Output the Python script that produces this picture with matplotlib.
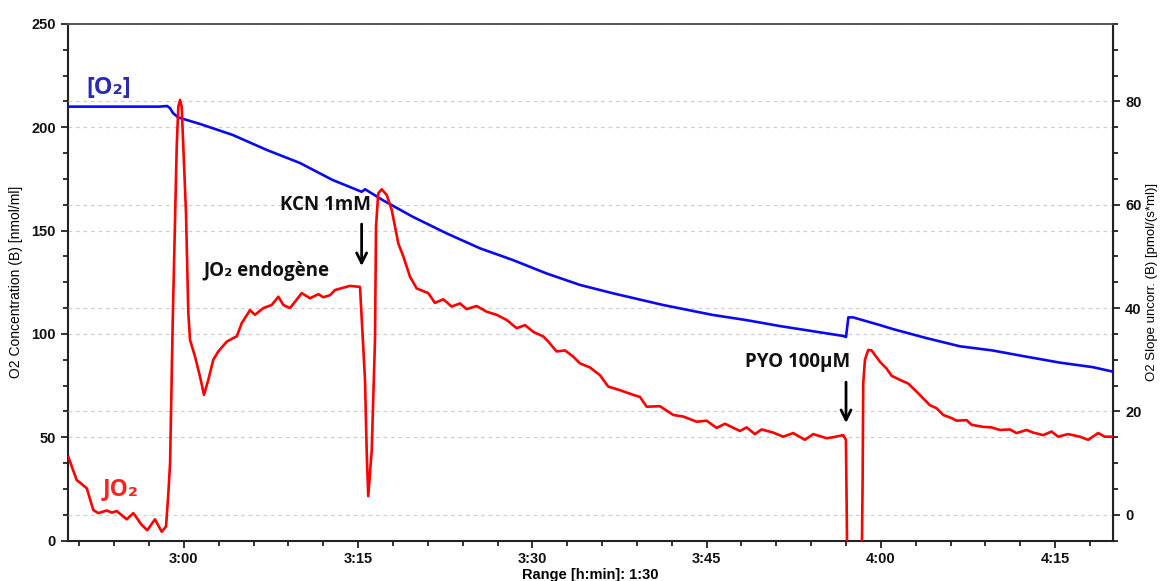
import matplotlib.pyplot as plt
from matplotlib.ticker import MultipleLocator, FuncFormatter

plt.rcParams['font.family'] = ['Liberation Sans', 'DejaVu Sans']

# time in minutes (3:00 = 180)
o2_time = [170.0, 177.9, 178.55, 178.8, 179.06, 179.5, 181.4, 184.2, 187.15, 190.0,
           192.8, 195.3, 195.6, 197.1, 199.7, 202.6, 205.5, 208.3, 211.2, 214.1,
           216.9, 221.25, 225.5, 228.4, 231.3, 236.76, 237.0, 237.2, 237.6, 239.9,
           241.0, 243.9, 246.8, 249.6, 252.5, 255.4, 258.25, 260.0]
o2_conc = [210.0, 210.0, 210.3, 209.3, 206.9, 204.8, 201.6, 196.3, 189.0, 182.7,
           174.5, 168.8, 170.0, 164.8, 156.7, 148.7, 141.4, 135.8, 129.3, 123.7,
           119.7, 114.0, 109.2, 106.7, 103.8, 99.0, 98.5, 108.0, 108.0, 104.3,
           102.4, 98.0, 94.0, 92.0, 89.0, 86.1, 83.9, 81.7]

jo2_time = [170.05, 170.77, 171.06, 171.64, 172.2, 172.63, 173.36, 173.79, 174.22, 175.08,
            175.65, 176.37, 176.85, 177.51, 178.09, 178.46, 178.66, 178.81, 179.04, 179.38,
            179.52, 179.67, 179.81, 179.95, 180.18, 180.38, 180.53, 180.96, 181.39, 181.73,
            182.1, 182.53, 182.96, 183.69, 184.25, 184.55, 184.98, 185.69, 186.12, 186.84,
            187.56, 188.13, 188.56, 189.13, 189.56, 190.14, 190.86, 191.57, 192.0, 192.58,
            193.01, 194.3, 195.16, 195.31, 195.59, 195.74, 195.87, 196.17, 196.45, 196.54,
            196.73, 197.03, 197.46, 197.89, 198.46, 198.89, 199.46, 200.04, 201.04, 201.61,
            202.33, 203.05, 203.77, 204.34, 205.2, 206.06, 206.92, 207.79, 208.65, 209.36,
            210.08, 210.94, 211.37, 212.09, 212.81, 213.52, 214.09, 214.96, 215.82, 216.53,
            217.54, 218.68, 219.26, 219.84, 220.98, 222.13, 222.99, 224.14, 225.0, 225.86,
            226.58, 227.87, 228.44, 229.16, 229.73, 230.73, 231.59, 232.45, 233.46, 234.18,
            235.33, 235.9, 236.76, 236.99, 237.05, 237.15, 237.7, 238.3, 238.43, 238.48,
            238.63, 238.91, 239.2, 239.92, 240.49, 240.92, 241.64, 242.35, 243.08, 244.22,
            244.8, 245.37, 246.09, 246.52, 247.38, 247.81, 248.81, 249.53, 250.25, 251.11,
            251.68, 252.54, 253.11, 253.97, 254.7, 255.26, 256.12, 257.13, 257.85, 258.71,
            259.28, 260.0]
jo2_slope = [11.2, 6.7, 6.2, 5.1, 0.9, 0.3, 0.8, 0.4, 0.7, -0.9,
             0.3, -2.0, -3.0, -0.9, -3.3, -2.3, 4.1, 10.0, 37.7, 71.2,
             79.0, 80.3, 79.0, 71.2, 58.4, 39.0, 33.8, 30.6, 26.7, 23.2,
             26.1, 30.0, 31.6, 33.5, 34.2, 34.5, 37.1, 39.6, 38.7, 40.0,
             40.6, 42.2, 40.6, 40.0, 41.2, 42.9, 41.9, 42.7, 42.1, 42.5,
             43.5, 44.3, 44.1, 37.7, 26.1, 11.9, 3.6, 12.5, 33.8, 55.8,
             62.2, 63.0, 61.9, 59.0, 52.5, 50.0, 46.1, 43.8, 42.9, 41.0,
             41.7, 40.3, 40.9, 39.8, 40.4, 39.3, 38.7, 37.7, 36.1, 36.7,
             35.4, 34.5, 33.5, 31.6, 31.8, 30.6, 29.3, 28.5, 27.0, 24.8,
             24.1, 23.2, 22.8, 20.9, 21.0, 19.3, 19.0, 18.0, 18.2, 16.8,
             17.6, 16.2, 16.9, 15.6, 16.5, 15.9, 15.1, 15.8, 14.5, 15.6,
             14.8, 15.0, 15.4, 14.5, 2.8, -20.0, -30.0, -20.0, 6.7, 25.4,
             30.0, 31.9, 31.8, 29.6, 28.3, 26.9, 26.1, 25.4, 23.8, 21.2,
             20.6, 19.3, 18.7, 18.2, 18.3, 17.4, 17.0, 16.9, 16.4, 16.5,
             15.8, 16.4, 15.9, 15.4, 16.1, 15.1, 15.6, 15.1, 14.5, 15.8,
             15.1, 15.1]


def hmin(t, pos):
    return "%d:%02d" % (int(t // 60), int(round(t % 60)))


fig = plt.figure(figsize=(11.62, 5.81), dpi=100)
ax = fig.add_axes([0.0583, 0.0697, 0.8997, 0.889])
ax2 = ax.twinx()

ax.set_xlim(170, 260)
ax.set_ylim(0, 250)
ax2.set_ylim(-5, 95)

# both curves live in ax2 so they sit above every grid line;
# the O2 curve still uses the left axis scale through ax.transData
ax2.plot(o2_time, o2_conc, color='#0a0aee', lw=1.9, zorder=3, transform=ax.transData)
ax2.plot(jo2_time, jo2_slope, color='#ff0000', lw=1.9, zorder=4)
ax2.set_ylim(-5, 95)

ax.xaxis.set_major_locator(MultipleLocator(15))
ax.xaxis.set_minor_locator(MultipleLocator(3))
ax.xaxis.set_major_formatter(FuncFormatter(hmin))
ax.yaxis.set_major_locator(MultipleLocator(50))
ax.yaxis.set_minor_locator(MultipleLocator(12.5))
ax2.yaxis.set_major_locator(MultipleLocator(20))
ax2.yaxis.set_minor_locator(MultipleLocator(5))

grid_kw = dict(color='#cfcfcf', linestyle=(0, (3, 3)), linewidth=0.9)
ax.yaxis.grid(True, **grid_kw)
ax2.yaxis.grid(True, **grid_kw)
ax.set_axisbelow(True)
ax2.set_axisbelow(True)

for a in (ax, ax2):
    a.tick_params(which='major', length=5, width=1.2, labelsize=10.5, colors='#111111')
    a.tick_params(which='minor', length=3.5, width=1.2, colors='#111111')
    for lab in a.get_xticklabels() + a.get_yticklabels():
        lab.set_fontweight('bold')
ax.tick_params(axis='x', pad=3)

for s in ('left', 'bottom'):
    ax.spines[s].set_linewidth(1.5)
    ax.spines[s].set_color('#222222')
ax2.spines['right'].set_linewidth(1.5)
ax2.spines['right'].set_color('#222222')
for a in (ax, ax2):
    a.spines['top'].set_color('#555555')
    a.spines['top'].set_linewidth(1.2)
ax2.spines['left'].set_visible(False)
ax2.spines['bottom'].set_visible(False)

ax.set_xlabel('Range [h:min]: 1:30', fontsize=10.5, fontweight='semibold', labelpad=2)
ax.set_ylabel('O2 Concentration (B) [nmol/ml]', fontsize=10, labelpad=6)
ax2.set_ylabel('O2 Slope uncorr. (B) [pmol/(s*ml)]', fontsize=9.5, labelpad=3)

# annotations (left-axis data coordinates)
ann_font = ['Open Sans', 'DejaVu Sans']
ax2.text(171.6, 219, '[O\u2082]', color='#2a2ab8', fontsize=17, fontweight='bold',
         va='center', ha='left', family=ann_font, transform=ax.transData)
ax2.text(173.0, 25, 'JO\u2082', color='#ff2020', fontsize=16.5, fontweight='bold',
         va='center', ha='left', family=ann_font, transform=ax.transData)
ax2.text(188.3, 162.5, 'KCN 1mM', color='#111111', fontsize=13.5, fontweight='bold',
         va='center', ha='left', family=ann_font, transform=ax.transData)
ax2.text(181.7, 130.5, 'JO\u2082 endogène', color='#111111', fontsize=13.5, fontweight='bold',
         va='center', ha='left', family=ann_font, transform=ax.transData)
ax2.text(228.3, 86.5, 'PYO 100µM', color='#111111', fontsize=13.5, fontweight='bold',
         va='center', ha='left', family=ann_font, transform=ax.transData)

arrow_kw = dict(arrowstyle='->', color='black', lw=2, mutation_scale=18)
ax2.annotate('', xy=(195.3, 131.5), xytext=(195.3, 154.5), xycoords=ax.transData,
             textcoords=ax.transData, arrowprops=arrow_kw)
ax2.annotate('', xy=(237.0, 55.5), xytext=(237.0, 78), xycoords=ax.transData,
             textcoords=ax.transData, arrowprops=arrow_kw)

fig.savefig('out.png', dpi=100)
